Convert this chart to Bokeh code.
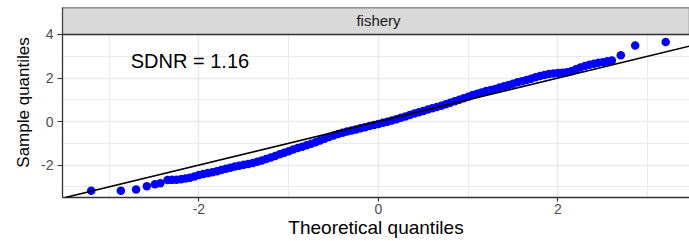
from bokeh.plotting import figure
from bokeh.models import FixedTicker, BoxAnnotation, Label, Slope, Range1d, PrintfTickFormatter
from bokeh.embed import file_html
from bokeh.resources import INLINE

# ---- data (QQ plot of residuals, facet "fishery") ----
theoretical = [-3.20, -2.87, -2.70, -2.58, -2.49, -2.43, -2.35, -2.30, -2.25, -2.20,
               -2.15, -2.10, -2.05, -2.00, -1.95, -1.90, -1.85, -1.80, -1.75, -1.70,
               -1.65, -1.60, -1.55, -1.50, -1.45, -1.40, -1.35, -1.30, -1.25, -1.20,
               -1.15, -1.10, -1.05, -1.00, -0.95, -0.90, -0.85, -0.80, -0.75, -0.70,
               -0.65, -0.60, -0.55, -0.50, -0.45, -0.40, -0.35, -0.30, -0.25, -0.20,
               -0.15, -0.10, -0.05, 0.00, 0.05, 0.10, 0.15, 0.20, 0.25, 0.30,
               0.35, 0.40, 0.45, 0.50, 0.55, 0.60, 0.65, 0.70, 0.75, 0.80,
               0.85, 0.90, 0.95, 1.00, 1.05, 1.10, 1.15, 1.20, 1.25, 1.30,
               1.35, 1.40, 1.45, 1.50, 1.55, 1.60, 1.65, 1.70, 1.75, 1.80,
               1.85, 1.90, 1.95, 2.00, 2.05, 2.10, 2.15, 2.20, 2.25, 2.30,
               2.35, 2.40, 2.45, 2.50, 2.55, 2.60, 2.70, 2.86, 3.20]
sample = [-3.18, -3.18, -3.12, -2.97, -2.88, -2.83, -2.69, -2.68, -2.67, -2.65,
          -2.62, -2.58, -2.52, -2.46, -2.41, -2.37, -2.33, -2.28, -2.23, -2.17,
          -2.12, -2.07, -2.03, -1.99, -1.95, -1.90, -1.85, -1.79, -1.72, -1.65,
          -1.58, -1.50, -1.43, -1.36, -1.29, -1.22, -1.16, -1.09, -1.02, -0.95,
          -0.87, -0.79, -0.71, -0.64, -0.57, -0.51, -0.46, -0.41, -0.36, -0.31,
          -0.26, -0.21, -0.16, -0.11, -0.06, -0.01, 0.05, 0.11, 0.17, 0.23,
          0.30, 0.37, 0.43, 0.49, 0.55, 0.61, 0.67, 0.73, 0.80, 0.86,
          0.93, 1.00, 1.07, 1.14, 1.22, 1.28, 1.34, 1.40, 1.45, 1.50,
          1.56, 1.62, 1.68, 1.74, 1.80, 1.85, 1.91, 1.97, 2.03, 2.09,
          2.14, 2.18, 2.21, 2.23, 2.24, 2.26, 2.31, 2.40, 2.48, 2.55,
          2.61, 2.66, 2.70, 2.73, 2.77, 2.80, 3.05, 3.49, 3.66]
facet_label = "fishery"
sdnr_text = "SDNR = 1.16"
sdnr_pos = (-2.10, 2.77)
line_intercept = 0.0
line_slope = 1.0
x_major = [-2, 0, 2]
x_minor = [-3, -1, 1, 3]
y_major = [-2, 0, 2, 4]
y_minor = [-3, -1, 1, 3]
panel_top = 4.0
y_top = 5.24  # top of the facet strip

FONT = "Liberation Sans"

p = figure(width=689, height=241, output_backend="svg", toolbar_location=None,
           x_range=Range1d(-3.52, 3.465), y_range=Range1d(-3.49, y_top),
           min_border_left=62, min_border_right=0, min_border_top=7, min_border_bottom=44,
           background_fill_color="white", border_fill_color="white")
p.outline_line_color = None

# grid
for g in (p.xgrid, p.ygrid):
    g.grid_line_color = "#EBEBEB"
    g.grid_line_width = 1.5
    g.minor_grid_line_color = "#EBEBEB"
    g.minor_grid_line_width = 1.0

p.xaxis.ticker = FixedTicker(ticks=x_major, minor_ticks=x_minor)
p.yaxis.ticker = FixedTicker(ticks=y_major, minor_ticks=y_minor)

for ax in (p.xaxis, p.yaxis):
    ax.formatter = PrintfTickFormatter(format="%d")
    ax.axis_line_color = "#333333"
    ax.axis_line_width = 1.3
    ax.major_tick_line_color = "#333333"
    ax.major_tick_line_width = 1.2
    ax.major_tick_in = 0
    ax.minor_tick_line_color = None
    ax.major_label_text_font = FONT
    ax.major_label_text_font_size = "14px"
    ax.major_label_text_color = "#4D4D4D"
    ax.axis_label_text_font = FONT
    ax.axis_label_text_font_size = "17px"
    ax.axis_label_text_font_style = "normal"
    ax.axis_label_text_color = "black"

p.xaxis.major_tick_out = 4
p.xaxis.major_label_standoff = 2
p.xaxis.axis_label = "Theoretical quantiles"
p.xaxis.axis_label_standoff = 0
p.xaxis.axis_label_text_font_size = "19px"
p.yaxis.major_tick_out = 5
p.yaxis.major_label_standoff = 4
p.yaxis.axis_label = "Sample quantiles"
p.yaxis.axis_label_standoff = 5

# points
p.scatter(theoretical, sample, size=8.5, color="#0000FF", line_color=None)

# reference line
p.add_layout(Slope(gradient=line_slope, y_intercept=line_intercept,
                   line_color="black", line_width=1.6))

# facet strip
strip = BoxAnnotation(bottom=panel_top, fill_color="#D9D9D9", fill_alpha=1.0,
                      line_color="#333333", line_width=1.3, line_alpha=1.0)
p.add_layout(strip)
p.add_layout(Label(x=0, y=(panel_top + y_top) / 2, text=facet_label,
                   text_font=FONT, text_font_size="15px", text_color="#1A1A1A",
                   text_align="center", text_baseline="middle"))

# SDNR annotation
p.add_layout(Label(x=sdnr_pos[0], y=sdnr_pos[1], text=sdnr_text,
                   text_font=FONT, text_font_size="20px", text_color="black",
                   text_align="center", text_baseline="middle"))

open("out.html", "w").write(file_html(p, INLINE))
